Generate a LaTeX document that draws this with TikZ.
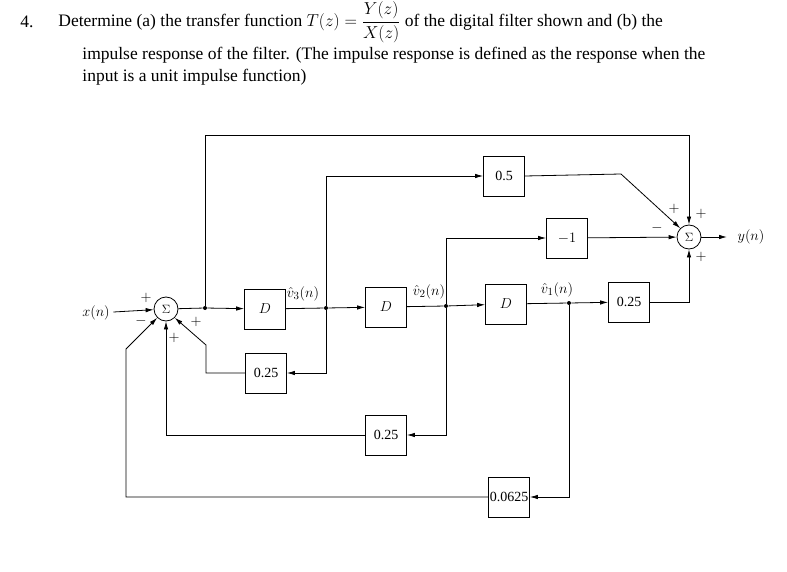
\documentclass[tikz,border=0pt]{standalone}
\usepackage{fontspec}
\setmainfont{Liberation Serif}
\usetikzlibrary{positioning}
\usetikzlibrary{arrows.meta}

\tikzset{blk/.style={draw,minimum width=41pt,minimum height=40pt,inner sep=0pt,font=\fontsize{14}{15}\selectfont},
sum/.style={draw,circle,minimum size=24pt,inner sep=0pt,font=\fontsize{12}{13}\selectfont},
dot/.style={circle,fill,inner sep=0pt,minimum size=4pt},
sig/.style={font=\fontsize{15}{16}\selectfont},
title/.style={anchor=west,font=\fontsize{17.5}{20}\selectfont,inner sep=0pt},
flow/.style={-{Latex[length=8pt,width=4.5pt]}}}

\begin{document}
\begin{tikzpicture}[x=1pt,y=-1pt,line width=0.8pt]
\useasboundingbox (0,0) rectangle (787,572);

\node[title] at (20,22) {4.};
\node[title] at (58,22) {Determine (a) the transfer function $T(z)={\displaystyle\frac{Y(z)}{X(z)}}$ of the digital filter shown and (b) the};
\node[title] at (82,55) {impulse response of the filter. (The impulse response is defined as the response when the};
\node[title] at (82,77) {input is a unit impulse function)};

% main chain
\node[sum] (s1) at (166,309) {$\Sigma$};
\node[sig] (x) at (96,313) {$x(n)$};
\node[dot] (j1) at (205,308) {};
\node[blk] (d1) at (265,309) {$D$};
\node[dot] (j2) at (326,308) {};
\node[blk] (d2) at (386,307) {$D$};
\node[dot] (j3) at (446,306) {};
\node[blk] (d3) at (506,304) {$D$};
\node[dot] (j4) at (569,303) {};
\node[blk] (g4) at (629,302) {0.25};
\node[sum] (s2) at (689,237) {$\Sigma$};
\node[sig] (y) at (751,237) {$y(n)$};
\node[blk] (g1) at (504,176) {0.5};
\node[blk] (g2) at (567,238) {$-1$};
\node[blk] (f1) at (266,373) {0.25};
\node[blk] (f2) at (386,435) {0.25};
\node[blk] (f3) at (509,497) {0.0625};

\node[sig] at (303,294) {$\hat v_3(n)$};
\node[sig] at (429,292) {$\hat v_2(n)$};
\node[sig] at (557,290) {$\hat v_1(n)$};

% signs
\node[sig] at (146,298) {$+$};
\node[sig] at (141,321) {$-$};
\node[sig] at (174,338) {$+$};
\node[sig] at (196,322) {$+$};
\node[sig] at (674,209) {$+$};
\node[sig] at (701,214) {$+$};
\node[sig] at (657,228) {$-$};
\node[sig] at (701,257) {$+$};

% forward path
\draw[flow] (x) -- (s1);
\draw (s1) -- (j1);
\draw[flow] (j1) -- (d1);
\draw (d1) -- (j2);
\draw[flow] (j2) -- (d2);
\draw (d2) -- (j3);
\draw[flow] (j3) -- (d3);
\draw (d3) -- (j4);
\draw[flow] (j4) -- (g4);
\draw[flow] (g4.east) -| (s2.south);
\draw[flow] (s2) -- (727,237);

% feed forward
\draw[flow] (j1) |- (689,135) -- (s2.north);
\draw[flow] (j2) |- (g1.west);
\draw[flow] (g1.east) -- (621,174) -- (s2.north west);
\draw[flow] (j3) |- (g2.west);
\draw[flow] (g2) -- (s2);

% feedback
\draw[flow] (j2) |- (f1.east);
\draw[flow] (f1.west) -- (206,373) -- (206,345) -- (s1.south east);
\draw[flow] (j3) |- (f2.east);
\draw[flow] (f2.west) -| (s1.south);
\draw[flow] (j4) |- (f3.east);
\draw[flow] (f3.west) -- (126,497) -- (126,349) -- (s1.south west);
\end{tikzpicture}
\end{document}
